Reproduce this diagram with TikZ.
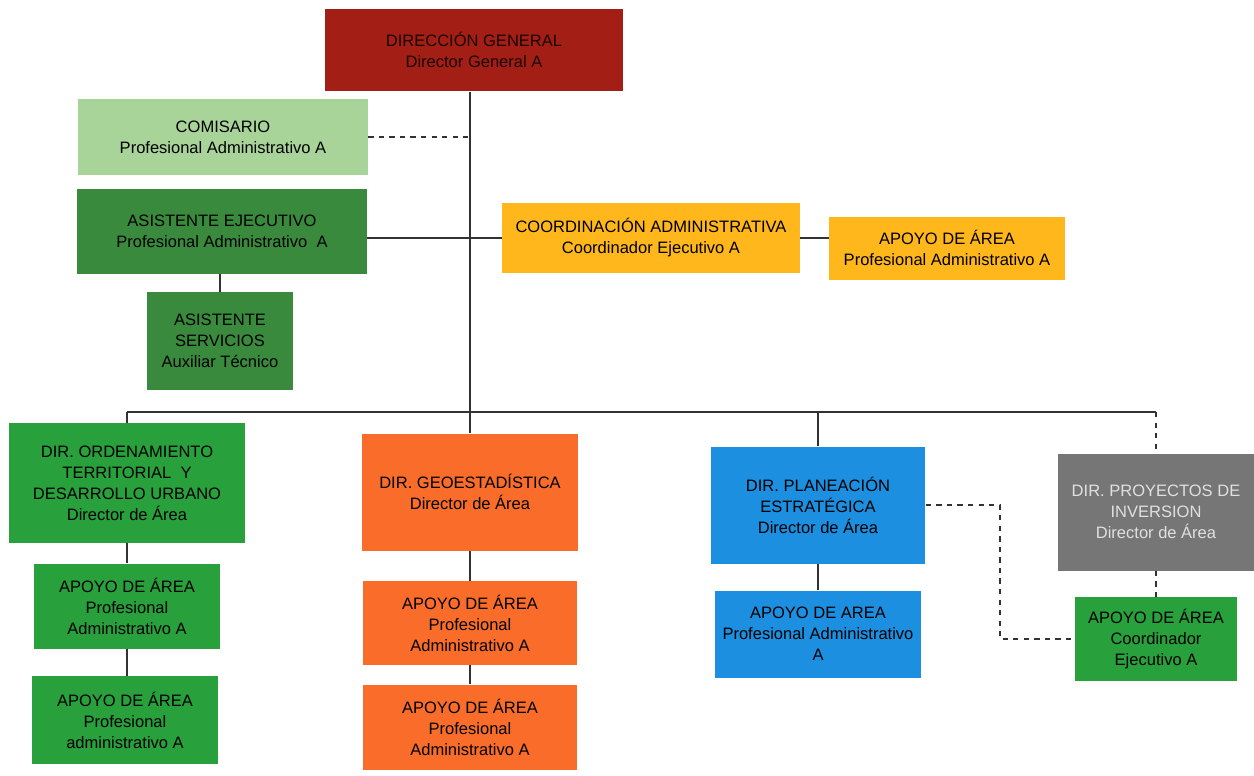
\documentclass[tikz,border=0pt]{standalone}
\usepackage{fontspec}
\setmainfont{Liberation Sans}
\usepackage{tikz}
\usetikzlibrary{calc}

\definecolor{rojodg}{RGB}{163,30,20}
\definecolor{verdeclaro}{RGB}{168,212,154}
\definecolor{verdeosc}{RGB}{58,138,62}
\definecolor{verde}{RGB}{40,160,60}
\definecolor{ambar}{RGB}{255,183,27}
\definecolor{naranja}{RGB}{250,108,42}
\definecolor{azul}{RGB}{28,143,224}
\definecolor{gris}{RGB}{118,118,118}
\definecolor{linea}{RGB}{50,50,50}

\tikzset{
  caja/.style={rectangle,inner sep=2pt,align=center,
    font=\fontsize{9.4}{12}\selectfont,text=black},
  conector/.style={draw=linea,line width=0.6pt}
}

\begin{document}
\begin{tikzpicture}

\begin{scope}[x=0.02cm,y=-0.02cm]

  \useasboundingbox (0,0) rectangle (1254,775);

  % direccion y apoyo directo
  \node[caja,fill=rojodg,text=black!85!rojodg,minimum width=5.96cm,minimum height=1.66cm] (dg) at (474,50) {DIRECCIÓN GENERAL\\Director General A};
  \node[caja,fill=verdeclaro,minimum width=5.8cm,minimum height=1.54cm] (com) at (223,137) {COMISARIO\\Profesional Administrativo A};
  \node[caja,fill=verdeosc,minimum width=5.8cm,minimum height=1.7cm] (ae) at (222,231) {ASISTENTE EJECUTIVO\\Profesional Administrativo~ A};
  \node[caja,fill=verdeosc,minimum width=2.94cm,minimum height=1.96cm] (as) at (220,341) {ASISTENTE\\SERVICIOS\\Auxiliar Técnico};
  \node[caja,fill=ambar,minimum width=5.96cm,minimum height=1.4cm] (coord) at (651,238) {COORDINACIÓN ADMINISTRATIVA\\Coordinador Ejecutivo A};
  \node[caja,fill=ambar,minimum width=4.72cm,minimum height=1.26cm] (apc) at (947,248) {APOYO DE ÁREA\\Profesional Administrativo A};

  % direcciones de area
  \node[caja,fill=verde,minimum width=4.74cm,minimum height=2.4cm] (ord) at (127,483) {DIR. ORDENAMIENTO\\TERRITORIAL~ Y\\DESARROLLO URBANO\\Director de Área};
  \node[caja,fill=verde,minimum width=3.74cm,minimum height=1.7cm] (ord1) at (127,606) {APOYO DE ÁREA\\Profesional\\Administrativo A};
  \node[caja,fill=verde,minimum width=3.74cm,minimum height=1.76cm] (ord2) at (125,720) {APOYO DE ÁREA\\Profesional\\administrativo A};

  \node[caja,fill=naranja,minimum width=4.34cm,minimum height=2.34cm] (geo) at (470,492) {DIR. GEOESTADÍSTICA\\Director de Área};
  \node[caja,fill=naranja,minimum width=4.3cm,minimum height=1.68cm] (geo1) at (470,623) {APOYO DE ÁREA\\Profesional\\Administrativo A};
  \node[caja,fill=naranja,minimum width=4.3cm,minimum height=1.7cm] (geo2) at (470,727) {APOYO DE ÁREA\\Profesional\\Administrativo A};

  \node[caja,fill=azul,minimum width=4.3cm,minimum height=2.34cm] (plan) at (818,505) {DIR. PLANEACIÓN\\ESTRATÉGICA\\Director de Área};
  \node[caja,fill=azul,minimum width=4.12cm,minimum height=1.74cm] (plan1) at (818,634) {APOYO DE AREA\\Profesional Administrativo\\A};

  \node[caja,fill=gris,text=black!12,minimum width=3.92cm,minimum height=2.34cm] (proy) at (1156,512) {DIR. PROYECTOS DE\\INVERSION\\Director de Área};
  \node[caja,fill=verde,minimum width=3.24cm,minimum height=1.68cm] (proy1) at (1156,639) {APOYO DE ÁREA\\Coordinador\\Ejecutivo A};

  \coordinate (tronco) at (470,412);
  \coordinate (barL) at (127,412);
  \coordinate (barR) at (1156,412);
  \coordinate (codo) at (1000,637);

  % conectores
  \draw[conector] (tronco |- dg.south) -- (tronco);
  \draw[conector,dashed] (com.east) -- (com.east -| tronco);
  \draw[conector] (ae.east |- coord.west) -- (coord.west);
  \draw[conector] (ae.south -| as.north) -- (as.north);
  \draw[conector] (coord.east) -- (apc.west |- coord.east);
  \draw[conector] (barL) -- (barR);
  \draw[conector] (barL) -- (ord.north);
  \draw[conector] (tronco) -- (geo.north);
  \draw[conector] (plan.north |- barL) -- (plan.north);
  \draw[conector,dashed] (barR) -- (proy.north);
  \draw[conector] (ord.south) -- (ord1.north);
  \draw[conector] (ord1.south) -- (ord2.north -| ord1.south);
  \draw[conector] (geo.south) -- (geo1.north);
  \draw[conector] (geo1.south) -- (geo2.north);
  \draw[conector] (plan.south) -- (plan1.north);
  \draw[conector,dashed] (proy.south) -- (proy1.north);
  \draw[conector,dashed] (plan.east) -- (plan.east -| codo) |- (proy1.west);

\end{scope}

\end{tikzpicture}
\end{document}
